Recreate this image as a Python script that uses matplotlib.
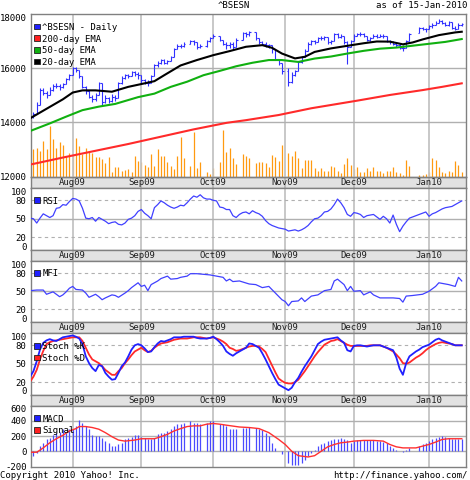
import numpy as np
import pandas as pd
import matplotlib
matplotlib.use("Agg")
import matplotlib.pyplot as plt
from matplotlib.patches import Rectangle

# ---------------- data ----------------
dates = pd.bdate_range("2009-07-15", "2010-01-15")   # weekdays, 133
ticker = "^BSESN"
as_of = "as of 15-Jan-2010"

opens = [14150, 14200, 14300, 14650, 15200, 15100, 15000, 15200, 15350, 15350,
         15300, 15400, 15600, 15750, 16000, 15950, 15700, 15300, 15150, 14950,
         14850, 15000, 15450, 14750, 14900, 14800, 14950, 14900, 15450, 15650,
         15750, 15700, 15850, 15800, 15750, 15550, 15450, 15450, 15700, 16100,
         16200, 16300, 16200, 16250, 16400, 16700, 16830, 16830, None, 16900,
         17000, 16950, 16800, None, 16830, 17000, 17100, None, 17200, 17050,
         16900, 16850, 16900, 16800, None, 17050, 17300, 17250, None, 17330,
         17100, 16950, 16900, 16850, 16850, 16700, 16350, 16200, None, 15900,
         15500, 15750, 15900, 16230, 16400, 16650, 16900, 17000, 16950, 17100,
         17100, 17150, 16950, 17000, 17250, 17150, 17200, 16950, 16800, 17000,
         17200, 17260, 17280, 17200, 17050, 17100, 17200, 17150, 17200, 17200,
         17000, 16950, 16900, 16850, 16750, 16750, 17000, None, None, 17300,
         17480, 17450, 17450, 17550, 17600, 17680, 17730, 17680, 17600, 17700,
         17500, 17450, 17600]
highs = [14350, 14400, 14750, 15250, 15250, 15150, 15300, 15400, 15450, 15400,
         15450, 15650, 15800, 16050, 16050, 15950, 15700, 15350, 15200, 15000,
         15100, 15500, 15450, 15000, 14950, 15050, 15000, 15500, 15700, 15800,
         15800, 15900, 15900, 15850, 15750, 15600, 15550, 15750, 16150, 16250,
         16350, 16350, 16300, 16450, 16750, 16900, 16900, 16950, None, 17050,
         17050, 16950, 16900, None, 17050, 17150, 17250, None, 17200, 17050,
         16950, 16950, 16950, 17100, None, 17350, 17350, 17380, None, 17350,
         17100, 17000, 16950, 16900, 16850, 16700, 16350, 16200, None, 16000,
         15850, 15950, 16280, 16450, 16700, 16950, 17050, 17050, 17150, 17200,
         17200, 17150, 17050, 17300, 17300, 17250, 17200, 17000, 17050, 17250,
         17300, 17350, 17300, 17200, 17150, 17250, 17250, 17250, 17250, 17200,
         17050, 17000, 16950, 16900, 16850, 17050, 17300, None, None, 17520,
         17520, 17500, 17600, 17650, 17750, 17800, 17780, 17700, 17750, 17700,
         17550, 17650, 17680]
lows = [14100, 14150, 14300, 14650, 15000, 14900, 15000, 15150, 15250, 15200,
        15250, 15400, 15550, 15750, 15850, 15650, 15250, 15050, 14900, 14750,
        14800, 15000, 14650, 14700, 14700, 14750, 14800, 14900, 15400, 15600,
        15650, 15700, 15700, 15600, 15450, 15400, 15350, 15450, 15700, 16050,
        16150, 16150, 16150, 16250, 16400, 16700, 16750, 16800, None, 16900,
        16850, 16700, 16750, None, 16800, 16950, 17100, None, 17000, 16850,
        16700, 16750, 16700, 16800, None, 17050, 17150, 17200, None, 17050,
        16900, 16850, 16800, 16750, 16550, 16300, 16100, 15800, None, 15330,
        15450, 15700, 15900, 16200, 16400, 16650, 16850, 16900, 16950, 17050,
        17050, 16900, 16900, 17000, 17100, 17100, 16900, 16170, 16800, 17000,
        17200, 17200, 17150, 17000, 17000, 17100, 17100, 17150, 17100, 16950,
        16900, 16850, 16800, 16700, 16650, 16750, 17000, None, None, 17300,
        17400, 17350, 17450, 17500, 17600, 17650, 17620, 17550, 17550, 17450,
        17400, 17450, 17550]
closes = [14200, 14300, 14650, 15200, 15100, 15000, 15200, 15350, 15350, 15300,
          15400, 15600, 15750, 16000, 15950, 15700, 15300, 15150, 14950, 14850,
          15000, 15450, 14750, 14900, 14800, 14950, 14900, 15450, 15650, 15750,
          15700, 15850, 15800, 15750, 15550, 15450, 15450, 15700, 16100, 16200,
          16300, 16200, 16250, 16400, 16700, 16830, 16830, 16900, None, 17000,
          16950, 16800, 16830, None, 17000, 17100, 17200, None, 17050, 16900,
          16850, 16900, 16800, 17050, None, 17300, 17250, 17330, None, 17100,
          16950, 16900, 16850, 16850, 16700, 16350, 16200, 15900, None, 15500,
          15750, 15900, 16230, 16400, 16650, 16900, 17000, 16950, 17100, 17100,
          17150, 16950, 17000, 17250, 17150, 17200, 16950, 16800, 17000, 17200,
          17260, 17280, 17200, 17050, 17100, 17200, 17150, 17200, 17200, 17000,
          16950, 16900, 16850, 16750, 16750, 17000, 17280, None, None, 17480,
          17450, 17450, 17550, 17600, 17680, 17730, 17680, 17600, 17700, 17500,
          17450, 17600, 17620]
volume = [45, 54, 57, 51, 70, 54, 100, 74, 57, 68,
          62, 41, 47, 44, 76, 61, 44, 57, 51, 47,
          38, 38, 34, 26, 38, 8, 18, 18, 11, 13,
          14, 8, 41, 31, 28, 22, 18, 44, 21, 54,
          41, 41, 28, 21, 14, 41, 77, 36, None, 21,
          88, 16, 28, None, 8, 5, 16, None, 28, 92,
          49, 57, 36, 24, None, 44, 41, 36, None, 26,
          28, 28, 26, 19, 42, 39, 30, 62, None, 46,
          41, 50, 36, 16, 32, 32, 33, 17, 11, 16,
          10, 11, 20, 19, 10, 6, 24, 36, 22, 14,
          19, 9, 9, 17, 10, 19, 11, 11, 6, 10,
          11, 19, 9, 6, 3, 32, 21, None, None, 3,
          3, 5, 8, 36, 32, 18, 8, 6, 10, 9,
          30, 22, 8]

ema20_day = [0, 5, 10, 13, 16, 20, 25, 30, 35, 38, 41, 46, 51, 56, 61, 66, 71,
             74, 77, 81, 84, 87, 92, 97, 102, 106, 110, 114, 117, 120, 125, 130, 132]
ema20 = [14150, 14500, 14850, 15100, 15180, 15180, 15130, 15310, 15440, 15520,
         15740, 16100, 16300, 16480, 16630, 16790, 16850, 16750, 16540, 16360,
         16420, 16600, 16730, 16825, 16920, 16985, 16980, 16880, 16950, 17060,
         17220, 17320, 17345]
ema50_day = [0, 6, 11, 16, 21, 26, 33, 38, 43, 48, 53, 58, 63, 68, 73, 77, 82,
             87, 92, 97, 102, 107, 112, 117, 122, 127, 132]
ema50 = [13680, 13960, 14210, 14450, 14580, 14680, 14930, 15060, 15310, 15500,
         15740, 15900, 16070, 16200, 16300, 16300, 16230, 16355, 16430, 16540,
         16640, 16720, 16760, 16830, 16900, 16970, 17075]
ema200_day = [0, 10, 20, 30, 40, 50, 60, 66, 76, 86, 95, 100, 110, 120, 126, 132]
ema200 = [12440, 12700, 12950, 13200, 13470, 13740, 13980, 14080, 14270, 14520,
          14700, 14800, 15010, 15190, 15310, 15440]

rsi = [51, 50, 43, 51, 58, 55, 52, 55, 67, 68, 73, 72, 78, 83, 82, 79, 67, 51, 50, 52,
       46, 52, 49, 46, 42, 44, 45, 41, 40, 43, 49, 51, 55, 62, 65, 59, 55, 50, 68, 73,
       79, 76, 72, 69, 67, 69, 72, 71, 76, 82, 87, 85, 89, 84, 82, 82, 80, 79, 69, 68,
       65, 65, 55, 52, 57, 60, 61, 58, 63, 60, 58, 54, 47, 42, 39, 37, 35, 34, 33, 30,
       31, 32, 30, 32, 35, 39, 45, 50, 51, 55, 61, 62, 66, 73, 82, 76, 68, 57, 54, 60,
       59, 57, 52, 55, 56, 57, 53, 49, 54, 50, 43, 56, 41, 29, 38, 45, 51, 53, 55, 57,
       59, 61, 54, 58, 60, 63, 66, 68, 69, 70, 73, 76, 79]

mfi_day = [0, 2, 4, 5, 7, 9, 10, 11, 12, 13, 14, 16, 17, 18, 20, 21, 22, 23, 25, 26,
           27, 29, 30, 31, 33, 34, 35, 36, 37, 39, 40, 42, 43, 45, 46, 48, 49, 51, 53, 55,
           57, 59, 60, 61, 62, 64, 67, 69, 71, 73, 75, 77, 78, 79, 80, 82, 83, 84, 86, 88,
           90, 92, 93, 94, 96, 97, 98, 99, 101, 102, 104, 105, 107, 109, 111, 113, 114, 115, 117, 120,
           122, 124, 125, 128, 130, 131, 132]
mfi = [51, 52, 52, 45, 49, 41, 44, 49, 55, 58, 53, 52, 47, 40, 45, 41, 36, 39, 44, 43,
       40, 47, 51, 56, 64, 58, 60, 51, 61, 67, 71, 75, 70, 71, 73, 75, 79, 79, 78, 77,
       75, 73, 67, 70, 66, 67, 62, 61, 56, 58, 47, 36, 33, 26, 33, 34, 39, 33, 42, 44,
       51, 53, 67, 70, 61, 51, 58, 50, 51, 44, 49, 44, 39, 39, 39, 38, 32, 42, 43, 45,
       50, 58, 64, 61, 58, 73, 67]

stoch_k = [29, 38, 54, 73, 84, 88, 90, 88, 87, 90, 93, 94, 95, 96, 94, 91, 82, 62, 51, 43,
           38, 48, 46, 35, 29, 24, 25, 35, 46, 52, 62, 73, 80, 82, 80, 75, 69, 70, 77, 83,
           87, 86, 88, 90, 93, 93, 93, 94, 94, 94, 94, 92, 91, 91, 91, 92, 94, 90, 85, 79,
           70, 66, 63, 67, 70, 73, 76, 83, 82, 79, 76, 67, 57, 46, 35, 25, 16, 13, 10, 7,
           11, 20, 27, 37, 46, 54, 62, 72, 82, 86, 89, 90, 91, 92, 93, 88, 84, 72, 70, 79,
           80, 80, 79, 78, 79, 80, 80, 80, 78, 76, 74, 72, 60, 42, 32, 51, 62, 66, 70, 73,
           77, 79, 81, 85, 89, 91, 88, 86, 84, 82, 80, 80, 80]
stoch_d = [21, 29, 40, 57, 71, 82, 85, 87, 88, 89, 90, 91, 92, 93, 93, 93, 87, 76, 65, 57,
           54, 51, 46, 40, 36, 32, 32, 38, 43, 51, 57, 64, 70, 73, 76, 72, 69, 71, 76, 80,
           83, 84, 85, 87, 89, 90, 91, 91, 91, 92, 93, 93, 93, 92, 91, 92, 93, 91, 89, 86,
           82, 76, 74, 71, 72, 74, 76, 78, 79, 79, 78, 74, 69, 58, 47, 36, 26, 22, 19, 18,
           18, 20, 24, 31, 38, 46, 54, 62, 69, 75, 81, 84, 87, 88, 90, 87, 84, 81, 79, 79,
           79, 79, 79, 79, 80, 80, 80, 80, 78, 76, 73, 70, 65, 59, 51, 50, 52, 56, 60, 63,
           67, 72, 76, 79, 82, 84, 85, 84, 83, 82, 80, 80, 80]

macd = [-20, -67, -22, 67, 111, 155, 178, 209, 244, 253, 289, 244, 297, 289, 333, 413, 377, 333, 289, 209,
        200, 200, 178, 133, 102, 75, 67, 89, 111, 155, 178, 190, 209, 209, 191, 178, 155, 155, 178, 222,
        235, 244, 266, 289, 333, 355, 355, 368, None, 400, 377, 377, 355, None, 368, 400, 400, None, 355, 355,
        333, 297, 289, 289, None, 311, 311, 320, None, 311, 289, 275, 244, 200, 111, 44, 5, -31, None, -155,
        -178, -180, -178, -155, -111, -67, -22, 22, 67, 89, 111, 133, 147, 155, 164, 169, 164, 147, 102, 133,
        147, 147, 147, 142, 142, 142, 133, 133, 120, 102, 75, 44, 22, 9, -13, 22, 44, None, None, 75,
        89, 111, 133, 155, 178, 191, 200, 191, 178, 164, 164, 164, 155]
signal_day = [0, 2, 4, 6, 8, 10, 12, 14, 15, 17, 19, 21, 23, 25, 27, 29, 32, 34, 36, 38,
              40, 42, 44, 46, 48, 50, 52, 54, 56, 58, 60, 62, 64, 67, 70, 73, 76, 78, 80, 82,
              85, 87, 89, 91, 93, 95, 97, 99, 102, 105, 108, 110, 112, 114, 116, 118, 120, 122, 124, 126,
              128, 130, 132]
signal = [-13, -13, 44, 111, 164, 209, 266, 297, 324, 324, 311, 289, 244, 191, 147, 133, 147, 164, 164, 164,
          191, 222, 266, 297, 324, 333, 333, 355, 364, 355, 342, 330, 318, 311, 297, 244, 155, 89, 0, -58,
          -75, -58, 0, 58, 89, 111, 120, 133, 142, 142, 133, 89, 58, 44, 44, 44, 67, 89, 120, 155,
          164, 164, 164]

# ---------------- layout ----------------
W, H = 470, 480
plt.rcParams['font.family'] = ['DejaVu Sans Mono']
plt.rcParams['font.size'] = 6.5
fig = plt.figure(figsize=(W / 100, H / 100), dpi=100)
fig.patch.set_facecolor('white')

L, R = 30.7, 466.0
XL = (0.16, 133.3)
x = np.arange(len(dates))
month_pos = [i for i in range(1, len(dates)) if dates[i].month != dates[i - 1].month]
month_lab = [dates[i].strftime('%b%y') for i in month_pos]

FRAME = '#808080'
GRID = '#c4c4c4'


def add_ax(top, bottom):
    return fig.add_axes([L / W, 1 - bottom / H, (R - L) / W, (bottom - top) / H])


def style(ax, ylim, yticks, solid=(), dashed=(), top_in=True, bottom_in=False):
    ax.set_xlim(XL)
    ax.set_ylim(ylim)
    ax.set_xticks([])
    ax.set_yticks(yticks)
    labs = ax.set_yticklabels([str(t) for t in yticks])
    if top_in:
        labs[-1].set_va('top')
    if bottom_in:
        labs[0].set_va('baseline')
    ax.tick_params(axis='y', length=0, pad=3, labelsize=6.5, colors='black')
    for m in month_pos:
        ax.axvline(m, color=GRID, lw=1.3, zorder=0)
    for h in solid:
        ax.axhline(h, color='#b0b0b0', lw=1.0, zorder=0)
    for h in dashed:
        ax.axhline(h, color='#b0b0b0', lw=0.8, ls=(0, (3, 3)), zorder=0)
    for s in ax.spines.values():
        s.set_color(FRAME)
        s.set_linewidth(1.0)


def band(top, bottom):
    b = add_ax(top, bottom)
    b.set_facecolor('#e2e2e2')
    b.set_xlim(XL)
    b.set_ylim(0, 1)
    b.set_xticks([])
    b.set_yticks([])
    for m in month_pos:
        b.axvline(m, color='#b8b8b8', lw=1.3, zorder=0)
    for m, lab in zip(month_pos, month_lab):
        b.text(m, 0.45, lab, ha='center', va='center', fontsize=6.5, color='#202020')
    for s in b.spines.values():
        s.set_color(FRAME)
        s.set_linewidth(1.0)


def legend(items, y0):
    for k, (col, lab) in enumerate(items):
        yc = y0 + 11.7 * k
        fig.add_artist(Rectangle(((34) / W, 1 - (yc + 2.6) / H), 5.6 / W, 5.6 / H,
                                 transform=fig.transFigure, facecolor=col,
                                 edgecolor='#202020', lw=0.6))
        fig.text(42.5 / W, 1 - (yc + 0.8) / H, lab, ha='left', va='center', fontsize=6.5)


def arr(v):
    return np.array(v, dtype=float)


# ---------------- price panel ----------------
axp = add_ax(14, 176.5)
axv = axp.twinx()
axv.vlines(x, 0, arr(volume), color='#ff9a10', lw=0.9)
axv.set_ylim(0, 320)
axv.set_yticks([])
axv.set_xlim(XL)
for s in axv.spines.values():
    s.set_visible(False)
axp.set_zorder(axv.get_zorder() + 1)
axp.patch.set_visible(False)
style(axp, (12000, 18000), [12000, 14000, 16000, 18000], solid=(14000, 16000))

o, h, l, c = arr(opens), arr(highs), arr(lows), arr(closes)
bar_col = '#3030ff'
axp.vlines(x, l, h, color=bar_col, lw=0.8, zorder=3)
axp.hlines(o, x - 0.5, x, color=bar_col, lw=0.8, zorder=3)
axp.hlines(c, x, x + 0.5, color=bar_col, lw=0.8, zorder=3)
axp.plot(ema200_day, ema200, color='#ff2a2a', lw=1.5, zorder=4)
axp.plot(ema50_day, ema50, color='#10b010', lw=1.5, zorder=4)
axp.plot(ema20_day, ema20, color='black', lw=1.5, zorder=4)
band(176.5, 188)
legend([('#2020ff', '^BSESN - Daily'), ('#ff2020', '200-day EMA'),
        ('#10b010', '50-day EMA'), ('black', '20-day EMA')], 26.5)

# ---------------- RSI ----------------
axr = add_ax(188, 249.5)
style(axr, (0, 100), [0, 20, 50, 80, 100], solid=(50,), dashed=(20, 80), bottom_in=True)
axr.plot(x, rsi, color='#4040ff', lw=0.9, zorder=3)
band(249.5, 261)
legend([('#2020ff', 'RSI')], 200.5)

# ---------------- MFI ----------------
axm = add_ax(261, 321.5)
style(axm, (0, 100), [0, 20, 50, 80, 100], solid=(50,), dashed=(20, 80), bottom_in=True)
axm.plot(mfi_day, mfi, color='#4040ff', lw=0.9, zorder=3)
band(321.5, 333)
legend([('#2020ff', 'MFI')], 273)

# ---------------- Stochastic ----------------
axs = add_ax(333, 394.5)
style(axs, (0, 100), [0, 20, 50, 80, 100], solid=(50,), dashed=(20, 80), bottom_in=True)
axs.plot(x, stoch_d, color='#ff2a2a', lw=1.3, zorder=3)
axs.plot(x, stoch_k, color='#2020ff', lw=1.3, zorder=4)
band(394.5, 405.5)
legend([('#2020ff', 'Stoch %K'), ('#ff2020', 'Stoch %D')], 346)

# ---------------- MACD ----------------
axc = add_ax(405.5, 466.5)
style(axc, (-200, 600), [-200, 0, 200, 400, 600], solid=(0, 200, 400))
axc.vlines(x, 0, arr(macd), color='#4a4aff', lw=0.9, zorder=3)
axc.plot(signal_day, signal, color='#ff3030', lw=1.0, zorder=4)
legend([('#2020ff', 'MACD'), ('#ff2020', 'Signal')], 418.3)

# ---------------- texts ----------------
fig.text(234 / W, 1 - 6 / H, ticker, ha='center', va='center', fontsize=6.5)
fig.text(467 / W, 1 - 6 / H, as_of, ha='right', va='center', fontsize=6.5)
fig.text(0.5 / W, 1 - 475 / H, 'Copyright 2010 Yahoo! Inc.', ha='left', va='center', fontsize=6.5)
fig.text(468 / W, 1 - 475 / H, 'http://finance.yahoo.com/', ha='right', va='center', fontsize=6.5)

fig.savefig('out.png', dpi=100, facecolor='white')
